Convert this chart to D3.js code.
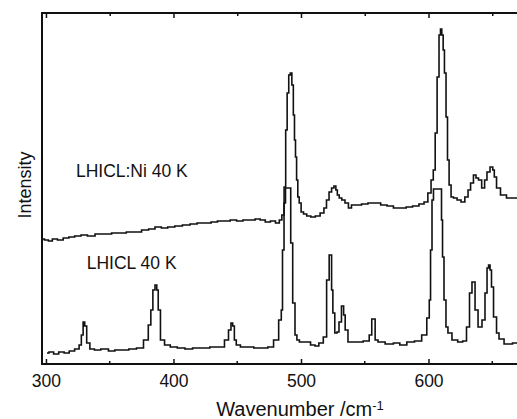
<!DOCTYPE html>
<html>
<head>
<meta charset="utf-8">
<script src="https://cdn.jsdelivr.net/npm/d3@7"></script>
<style>
    body { margin: 0; background: #fff; }
    svg { display: block; font-family: "Liberation Sans", Arial, Helvetica, sans-serif; }
    .label { fill: #111; }
</style>
</head>
<body>
<svg width="517" height="419"></svg>
<script>
//spectra: [wavenumber cm-1, intensity arb. units]
var niSpectrum = [[296.9,125],[300.8,124],[303,123],[307,125],[311,124],[316,126],[320,127],[325,128],[330,129],[335,128],
    [342,130],[348,130],[355,131],[360,131],[366,132],[372,132],[378,134],[383,135],[388,137],[393,136],[398,137],[404,138],
    [410,139],[416,140],[421,141],[427,141],[432,142],[437,143],[442,143],[447,144],[452,143],[457,144],[462,144],[466,145],
    [470,144],[474,142],[478,143],[482,141],[484,144],[486,149],[487.5,177],[488.5,234],[489.8,271],[491,289],[492.2,291],
    [493.5,279],[494.5,249],[495.3,224],[496.1,207],[497,184],[498,167],[499.2,161],[501,152],[503,150],[506,148],[509.4,147],
    [513,148],[517,151],[519,156],[521,164],[523,172],[525,176],[526.7,178],[528,174],[529,169],[531,166],[533,164],[536,161],
    [538.4,156],[540.8,159],[545,159],[550,160],[555,161],[560,161],[565,159],[570,158],[575,156],[580,156],[585,157],[590,158],
    [595,160],[598,162],[601,171],[603,184],[604.5,194],[606,231],[607.5,287],[609,329],[609.8,335],[611,329],[612,314],
    [613,291],[614.5,247],[615.3,204],[617,179],[618.4,167],[620.8,166],[624,164],[627,162],[630,167],[632,174],[634,181],
    [636.5,189],[638,186],[640.4,184],[643,176],[645,184],[646.7,192],[649.8,197],[651,194],[652.2,187],[654.5,176],
    [658.4,169],[663.9,166],[669.4,166]];

var pureSpectrum = [[300.8,11],[304,12],[308,10],[312,12],[316.5,11],[320,13],[325,15],[327,19],[328.5,29],[329.8,42],
    [331,38],[332.9,21],[336,15],[340,14],[346,15],[352,13],[356,14],[362,14],[368,15],[374,16],[379,24],[381.5,39],[383,54],
    [384.7,74],[386.3,79],[387.5,74],[388.6,54],[391,24],[395,19],[400,17],[406,16],[412,15],[418,16],[425,16],[432,17],
    [438,17],[442,24],[444.3,34],[445.9,41],[447,38],[448.5,24],[450,19],[455,17],[460,17],[466,16],[472,16],[476,17],
    [481,24],[484,44],[485.1,54],[485.9,114],[487.5,161],[488.2,176],[491.4,176],[492.5,121],[494.5,61],[496.1,29],
    [497.5,24],[500,22],[505,22],[510,19],[512,18],[516,21],[519,27],[521.2,84],[523,109],[523.5,109],[524.5,74],[525.5,51],
    [527.5,31],[529,32],[530.6,42],[532.9,58],[534,49],[535.3,34],[538.4,22],[545,22],[552.5,23],[554.5,29],[556.5,45],
    [557.5,45],[558.8,24],[562,22],[570,20],[575,21],[580,19],[586,22],[592,23],[597.3,29],[600,46],[601.2,64],[602,114],
    [603.5,164],[604.3,175],[609.8,175],[610.6,144],[611.4,107],[612.9,64],[614.5,37],[616,31],[620.8,24],[625,22],
    [628.6,23],[631,37],[633.3,71],[634.9,82],[635.7,82],[637.3,54],[640.4,37],[643.5,44],[645.1,71],[646.7,96],[647.5,99],
    [649,94],[649.8,77],[652.2,47],[654.5,31],[656.1,25],[662.4,20],[669.4,21]];

var xDomain = [296.9, 669.4];
var yDomain = [0, 351];
var majorTicks = [300, 400, 500, 600];
var minorTicks = [350, 450, 550, 650];
var curveLabels = [
    {text: 'LHICL:Ni 40 K', w: 323.5, i: 187},
    {text: 'LHICL 40 K', w: 332, i: 95}
];

var svg = d3.select('svg');

//plot frame
var plotLeft = 42, plotRight = 517, plotTop = 13, plotBottom = 364;

var xScale = d3.scaleLinear()
    .domain(xDomain)
    .range([plotLeft, plotRight]);

var yScale = d3.scaleLinear()
    .domain(yDomain)
    .range([plotBottom, plotTop]);

svg.append('clipPath')
    .attr('id', 'plot-clip')
    .append('rect')
    .attr('x', plotLeft)
    .attr('y', plotTop)
    .attr('width', plotRight - plotLeft)
    .attr('height', plotBottom - plotTop);

//spectrum lines, drawn as steps like the recorded data
var line = d3.line()
    .x(d => xScale(d[0]))
    .y(d => yScale(d[1]))
    .curve(d3.curveStep);

svg.append('g')
    .attr('clip-path', 'url(#plot-clip)')
    .selectAll('path')
    .data([niSpectrum, pureSpectrum])
    .enter()
    .append('path')
    .attr('d', line)
    .style('fill', 'none')
    .style('stroke', '#111')
    .style('stroke-width', 1.6)
    .style('stroke-linejoin', 'miter');

//bottom axis with inward ticks
var xAxis = d3.axisBottom(xScale)
    .tickValues(majorTicks)
    .tickSize(-5)
    .tickFormat(d3.format('d'));

var xAxisG = svg.append('g')
    .attr('class', 'x axis')
    .attr('transform', 'translate(0,' + plotBottom + ')')
    .call(xAxis);

xAxisG.select('.domain').remove();
xAxisG.selectAll('line').style('stroke', '#111').style('stroke-width', 1.5);
xAxisG.selectAll('text')
    .attr('y', 23)
    .attr('dy', 0)
    .style('font-size', '17.5px')
    .style('fill', '#111')
    .style('font-family', '"Liberation Sans", Arial, sans-serif');

//minor ticks on the bottom
svg.append('g')
    .selectAll('line')
    .data(minorTicks)
    .enter()
    .append('line')
    .attr('x1', d => xScale(d))
    .attr('x2', d => xScale(d))
    .attr('y1', plotBottom)
    .attr('y2', plotBottom - 3)
    .style('stroke', '#111')
    .style('stroke-width', 1.5);

//mirrored ticks on the top
var topAxis = d3.axisTop(xScale)
    .tickValues(majorTicks.concat(minorTicks))
    .tickSize(-5)
    .tickFormat('');

var topAxisG = svg.append('g')
    .attr('transform', 'translate(0,' + plotTop + ')')
    .call(topAxis);

topAxisG.select('.domain').remove();
topAxisG.selectAll('line')
    .attr('y2', d => majorTicks.indexOf(d) >= 0 ? 5 : 3)
    .style('stroke', '#111')
    .style('stroke-width', 1.5);

//frame lines (no right side)
svg.append('path')
    .attr('d', 'M' + plotRight + ',' + plotTop + 'H' + plotLeft + 'V' + plotBottom + 'H' + plotRight)
    .style('fill', 'none')
    .style('stroke', '#111')
    .style('stroke-width', 2);

//axis titles
var xTitle = svg.append('text')
    .attr('class', 'label')
    .attr('x', 300)
    .attr('y', 416)
    .attr('text-anchor', 'middle')
    .style('font-size', '20px')
    .text('Wavenumber /cm');

xTitle.append('tspan')
    .attr('dy', -6)
    .style('font-size', '13px')
    .text('-1');

svg.append('text')
    .attr('class', 'label')
    .attr('transform', 'translate(31,185) rotate(-90)')
    .attr('text-anchor', 'middle')
    .style('font-size', '18px')
    .text('Intensity');

//curve names
svg.selectAll('.curve-label')
    .data(curveLabels)
    .enter()
    .append('text')
    .attr('class', 'label curve-label')
    .attr('x', d => xScale(d.w))
    .attr('y', d => yScale(d.i))
    .style('font-size', '17.5px')
    .text(d => d.text);
</script>
</body>
</html>
